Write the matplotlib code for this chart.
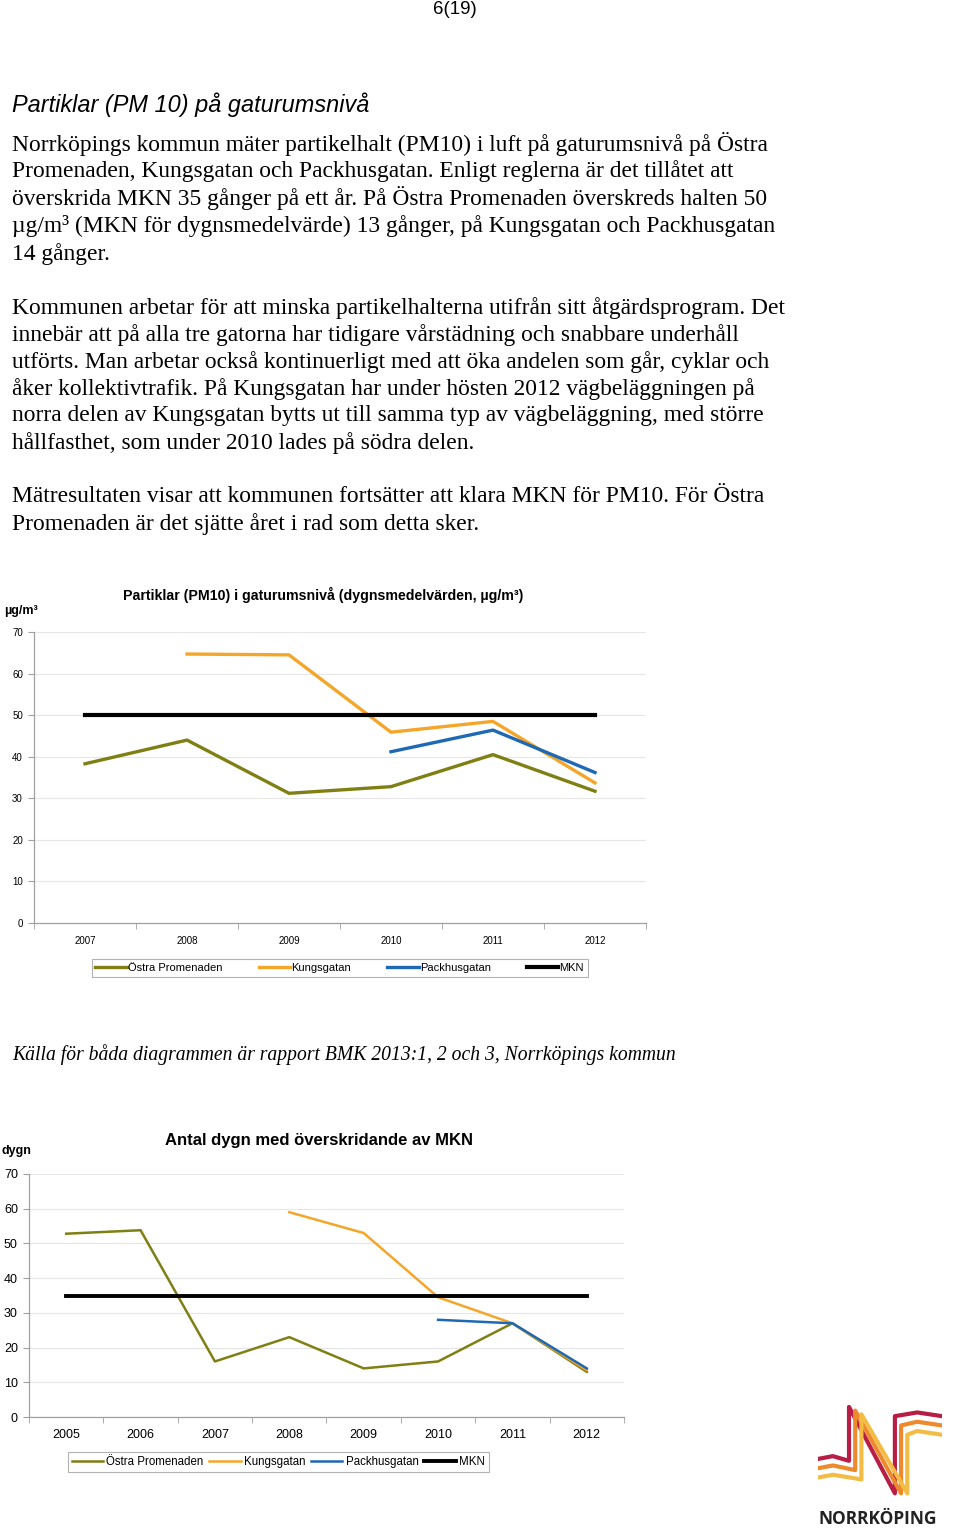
import numpy as np
import matplotlib.pyplot as plt
from matplotlib.lines import Line2D
import matplotlib.ticker as ticker

# --- data ---
years_pm = ['2007', '2008', '2009', '2010', '2011', '2012']
pm_ostra = [38.3, 44.0, 31.2, 32.8, 40.5, 31.7]
pm_kungs = [np.nan, 64.7, 64.5, 45.9, 48.5, 33.7]
pm_packhus = [np.nan, np.nan, np.nan, 41.2, 46.4, 36.2]
pm_mkn = [50, 50, 50, 50, 50, 50]

years_days = ['2005', '2006', '2007', '2008', '2009', '2010', '2011', '2012']
days_ostra = [52.8, 53.8, 16.0, 23.0, 14.0, 16.0, 27.0, 13.0]
days_kungs = [np.nan, np.nan, np.nan, 59.0, 53.0, 34.5, 27.0, 13.5]
days_packhus = [np.nan, np.nan, np.nan, np.nan, np.nan, 28.0, 27.0, 14.0]
days_mkn = [35, 35, 35, 35, 35, 35, 35, 35]

series_names = ['Östra Promenaden', 'Kungsgatan', 'Packhusgatan', 'MKN']
C_OSTRA = '#7F7F14'
C_KUNGS = '#F4A62A'
C_PACK = '#1F68B4'
C_MKN = '#000000'

W, H = 960, 1532
fig = plt.figure(figsize=(W / 100, H / 100), dpi=100)


def fy(px):
    return 1 - px / H


def fx(px):
    return px / W


serif = 'Liberation Serif'
sans = 'Liberation Sans'

# --- page text ---
fig.text(fx(455), fy(10), '6(19)', fontsize=13.5, family=sans, ha='center', va='center')
fig.text(fx(12), fy(105), 'Partiklar (PM 10) på gaturumsnivå', fontsize=16.9,
         family=sans, style='italic', va='center')

body = [
    (144, 'Norrköpings kommun mäter partikelhalt (PM10) i luft på gaturumsnivå på Östra'),
    (171, 'Promenaden, Kungsgatan och Packhusgatan. Enligt reglerna är det tillåtet att'),
    (198, 'överskrida MKN 35 gånger på ett år. På Östra Promenaden överskreds halten 50'),
    (226, 'µg/m³ (MKN för dygnsmedelvärde) 13 gånger, på Kungsgatan och Packhusgatan'),
    (254, '14 gånger.'),
    (308, 'Kommunen arbetar för att minska partikelhalterna utifrån sitt åtgärdsprogram. Det'),
    (335, 'innebär att på alla tre gatorna har tidigare vårstädning och snabbare underhåll'),
    (362, 'utförts. Man arbetar också kontinuerligt med att öka andelen som går, cyklar och'),
    (389, 'åker kollektivtrafik. På Kungsgatan har under hösten 2012 vägbeläggningen på'),
    (416, 'norra delen av Kungsgatan bytts ut till samma typ av vägbeläggning, med större'),
    (443, 'hållfasthet, som under 2010 lades på södra delen.'),
    (497, 'Mätresultaten visar att kommunen fortsätter att klara MKN för PM10. För Östra'),
    (524, 'Promenaden är det sjätte året i rad som detta sker.'),
]
for y, line in body:
    fig.text(fx(12), fy(y), line, fontsize=16.95, family=serif, va='center')

fig.text(fx(12), fy(1055),
         'Källa för båda diagrammen är rapport BMK 2013:1, 2 och 3, Norrköpings kommun',
         fontsize=14.1, family=serif, style='italic', va='center')


def style_axes(ax, labels, tick_size):
    n = len(labels)
    ax.set_xlim(-0.5, n - 0.5)
    ax.set_ylim(0, 70)
    ax.set_yticks(range(0, 71, 10))
    ax.set_xticks(range(n))
    ax.set_xticklabels(labels)
    ax.xaxis.set_minor_locator(ticker.FixedLocator(np.arange(-0.5, n, 1.0)))
    ax.tick_params(axis='x', which='major', length=0, pad=9, labelsize=tick_size)
    ax.tick_params(axis='x', which='minor', length=4, color='#A0A0A0', direction='out')
    ax.tick_params(axis='y', length=4, color='#A0A0A0', labelsize=tick_size, pad=4)
    for lbl in ax.get_xticklabels() + ax.get_yticklabels():
        lbl.set_family(sans)
    ax.grid(axis='y', color='#E6E6E6', linewidth=0.8)
    ax.set_axisbelow(True)
    for s in ['top', 'right']:
        ax.spines[s].set_visible(False)
    for s in ['left', 'bottom']:
        ax.spines[s].set_color('#A0A0A0')
        ax.spines[s].set_linewidth(0.9)


# --- chart 1: PM10 concentrations ---
ax1 = fig.add_axes([fx(34), fy(923), fx(646 - 34), (923 - 632) / H])
x1 = np.arange(len(years_pm))
ax1.plot(x1, pm_ostra, color=C_OSTRA, lw=2.4)
ax1.plot(x1, pm_kungs, color=C_KUNGS, lw=2.4)
ax1.plot(x1, pm_packhus, color=C_PACK, lw=2.4)
ax1.plot(x1, pm_mkn, color=C_MKN, lw=3.0)
style_axes(ax1, years_pm, 7)
fig.text(fx(123), fy(595), 'Partiklar (PM10) i gaturumsnivå (dygnsmedelvärden, µg/m³)',
         fontsize=10.2, family=sans, weight='bold', va='center')
fig.text(fx(4), fy(611), 'µg/m³', fontsize=9, family=sans, weight='bold', va='center')

handles = [Line2D([], [], color=c, lw=lw) for c, lw in
           zip([C_OSTRA, C_KUNGS, C_PACK, C_MKN], [2.4, 2.4, 2.4, 3.0])]
leg1 = fig.legend(handles, series_names, ncol=4, loc='center left',
                  bbox_to_anchor=(fx(86), fy(968)), frameon=True, fancybox=False,
                  edgecolor='#A0A0A0', handlelength=2.8, handletextpad=0.1,
                  columnspacing=3.3, borderpad=0.35, prop={'family': sans, 'size': 8})
leg1.get_frame().set_linewidth(0.8)

# --- chart 2: number of exceedance days ---
ax2 = fig.add_axes([fx(29), fy(1417), fx(624 - 29), (1417 - 1174) / H])
x2 = np.arange(len(years_days))
ax2.plot(x2, days_ostra, color=C_OSTRA, lw=1.8)
ax2.plot(x2, days_kungs, color=C_KUNGS, lw=1.8)
ax2.plot(x2, days_packhus, color=C_PACK, lw=1.8)
ax2.plot(x2, days_mkn, color=C_MKN, lw=2.8)
style_axes(ax2, years_days, 9)
fig.text(fx(165), fy(1140), 'Antal dygn med överskridande av MKN',
         fontsize=12, family=sans, weight='bold', va='center')
fig.text(fx(1), fy(1151), 'dygn', fontsize=9, family=sans, weight='bold', va='center')

handles2 = [Line2D([], [], color=c, lw=lw) for c, lw in
            zip([C_OSTRA, C_KUNGS, C_PACK, C_MKN], [1.8, 1.8, 1.8, 2.8])]
leg2 = fig.legend(handles2, series_names, ncol=4, loc='center left',
                  bbox_to_anchor=(fx(62), fy(1462)), frameon=True, fancybox=False,
                  edgecolor='#A0A0A0', handlelength=2.7, handletextpad=0.3,
                  columnspacing=0.5, borderpad=0.35, prop={'family': sans, 'size': 8.3})
leg2.get_frame().set_linewidth(0.8)

# --- logo (approximation) ---
lg = fig.add_axes([fx(818), fy(1498), fx(124), 93 / H])
lg.set_xlim(0, 1)
lg.set_ylim(0, 1)
lg.axis('off')
for k, col in enumerate(['#B81E45', '#EE8A2E', '#F3BD45']):
    d = k * 0.1
    xs = [0.0, 0.12, 0.25 + d * 0.5, 0.25 + d * 0.5, 0.62 + d * 0.5, 0.62 + d * 0.5,
          0.8, 1.0]
    ys = [0.42 - d, 0.45 - d, 0.40 - d, 0.98 - d * 0.4, 0.05, 0.88 - d, 0.92 - d, 0.88 - d]
    lg.plot(xs, ys, color=col, lw=3.0, solid_joinstyle='round')
fig.text(fx(878), fy(1519), 'NORRKÖPING', fontsize=12.5, family='Open Sans',
         weight='bold', ha='center', va='center', color='#222222')

fig.savefig('out.png', dpi=100)
